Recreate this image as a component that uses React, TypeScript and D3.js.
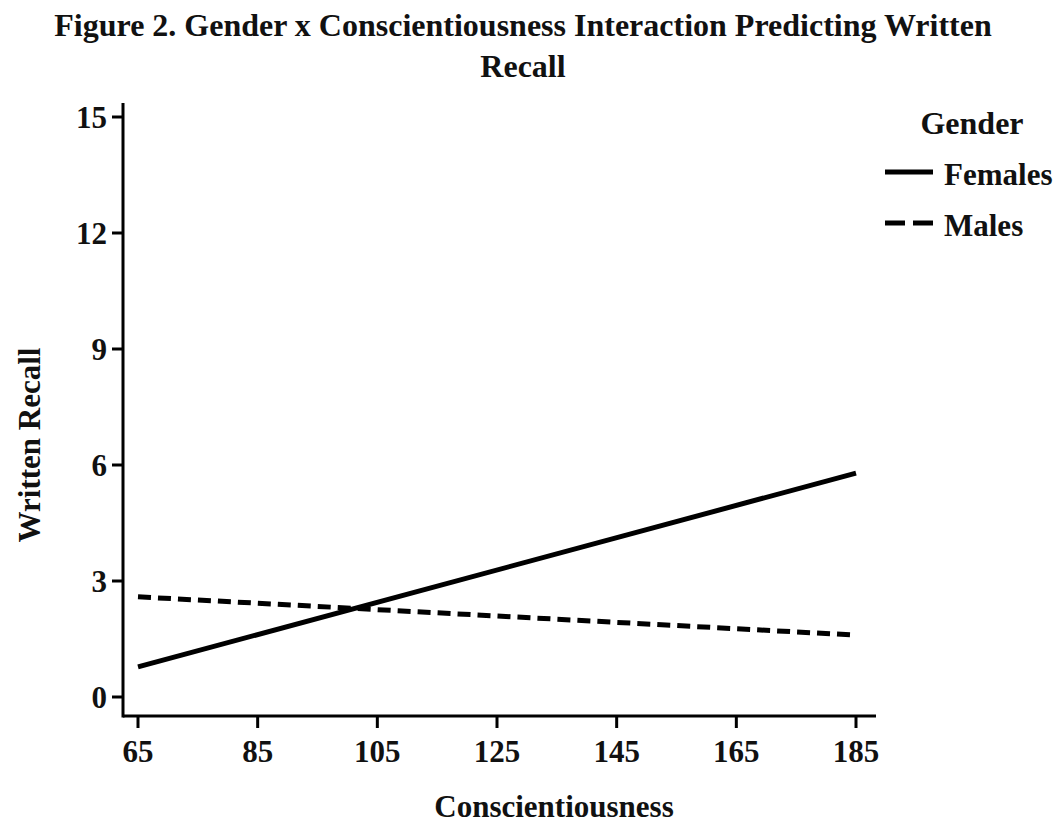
import React, { useEffect, useRef } from 'react';
import * as d3 from 'd3';

// data (fitted regression lines, two ends each)
const conscientiousness = [65, 185];
const femalesRecall = [0.78, 5.79];
const malesRecall = [2.59, 1.6];
const xTicks = [65, 85, 105, 125, 145, 165, 185];
const yTicks = [0, 3, 6, 9, 12, 15];
const seriesNames = ['Females', 'Males'];

const W = 1056;
const H = 824;
const FONT = '"Liberation Serif", "Times New Roman", serif';

const App: React.FC = () => {
  const svgRef = useRef<SVGSVGElement>(null);

  useEffect(() => {
    if (!svgRef.current) return;
    const svg = d3.select(svgRef.current);
    svg.selectAll('*').remove();

    const x = d3.scaleLinear().domain([65, 185]).range([138, 856]);
    const y = d3.scaleLinear().domain([0, 15]).range([697, 117]);

    svg.append('rect').attr('width', W).attr('height', H).attr('fill', '#fff');

    // title
    const title = svg.append('text')
      .attr('text-anchor', 'middle')
      .style('font-family', FONT)
      .style('font-weight', 'bold')
      .style('font-size', '32px')
      .attr('fill', '#111');
    title.append('tspan').attr('x', 523).attr('y', 36)
      .text('Figure 2. Gender x Conscientiousness Interaction Predicting Written');
    title.append('tspan').attr('x', 523).attr('y', 77).text('Recall');

    // axes
    const axisX = 123;
    const axisY = 716;

    svg.append('line')
      .attr('x1', axisX).attr('x2', axisX)
      .attr('y1', 103).attr('y2', axisY + 1.5)
      .attr('stroke', '#000').attr('stroke-width', 3);
    svg.append('line')
      .attr('x1', axisX).attr('x2', 876)
      .attr('y1', axisY).attr('y2', axisY)
      .attr('stroke', '#000').attr('stroke-width', 3);

    const yAxis = svg.append('g');
    yAxis.selectAll('line').data(yTicks).enter().append('line')
      .attr('x1', 112).attr('x2', axisX)
      .attr('y1', d => y(d)).attr('y2', d => y(d))
      .attr('stroke', '#000').attr('stroke-width', 3);
    yAxis.selectAll('text').data(yTicks).enter().append('text')
      .attr('x', 107).attr('y', d => y(d))
      .attr('dy', '0.35em')
      .attr('text-anchor', 'end')
      .style('font-family', FONT).style('font-weight', 'bold').style('font-size', '31px')
      .attr('fill', '#111')
      .text(d => d);

    const xAxis = svg.append('g');
    xAxis.selectAll('line').data(xTicks).enter().append('line')
      .attr('x1', d => x(d)).attr('x2', d => x(d))
      .attr('y1', axisY).attr('y2', 728)
      .attr('stroke', '#000').attr('stroke-width', 3);
    xAxis.selectAll('text').data(xTicks).enter().append('text')
      .attr('x', d => x(d)).attr('y', 762)
      .attr('text-anchor', 'middle')
      .style('font-family', FONT).style('font-weight', 'bold').style('font-size', '31px')
      .attr('fill', '#111')
      .text(d => d);

    // axis titles
    svg.append('text')
      .attr('transform', 'translate(40,445) rotate(-90)')
      .attr('text-anchor', 'middle')
      .style('font-family', FONT).style('font-weight', 'bold').style('font-size', '31px')
      .attr('fill', '#111')
      .text('Written Recall');
    svg.append('text')
      .attr('x', 554).attr('y', 817)
      .attr('text-anchor', 'middle')
      .style('font-family', FONT).style('font-weight', 'bold').style('font-size', '31px')
      .attr('fill', '#111')
      .text('Conscientiousness');

    // lines
    const line = d3.line<[number, number]>().x(d => x(d[0])).y(d => y(d[1]));
    const females = conscientiousness.map((c, i) => [c, femalesRecall[i]] as [number, number]);
    const males = conscientiousness.map((c, i) => [c, malesRecall[i]] as [number, number]);
    const dashes = ['none', '13,7'];

    [females, males].forEach((pts, i) => {
      svg.append('path')
        .attr('d', line(pts) || '')
        .attr('fill', 'none')
        .attr('stroke', '#000')
        .attr('stroke-width', 5)
        .attr('stroke-dasharray', dashes[i]);
    });

    // legend
    svg.append('text')
      .attr('x', 972).attr('y', 134)
      .attr('text-anchor', 'middle')
      .style('font-family', FONT).style('font-weight', 'bold').style('font-size', '32px')
      .attr('fill', '#111')
      .text('Gender');
    const legend = svg.append('g');
    seriesNames.forEach((name, i) => {
      const ly = 172 + i * 51;
      legend.append('line')
        .attr('x1', 885).attr('x2', 933)
        .attr('y1', ly).attr('y2', ly)
        .attr('stroke', '#000').attr('stroke-width', 5)
        .attr('stroke-dasharray', i === 0 ? 'none' : '20,8');
      legend.append('text')
        .attr('x', 944).attr('y', ly + 13)
        .style('font-family', FONT).style('font-weight', 'bold').style('font-size', '31px')
        .attr('fill', '#111')
        .text(name);
    });
  }, []);

  return (
    <svg
      ref={svgRef}
      width={W}
      height={H}
      style={{ position: 'absolute', left: 0, top: 0, display: 'block' }}
    />
  );
};

export default App;
